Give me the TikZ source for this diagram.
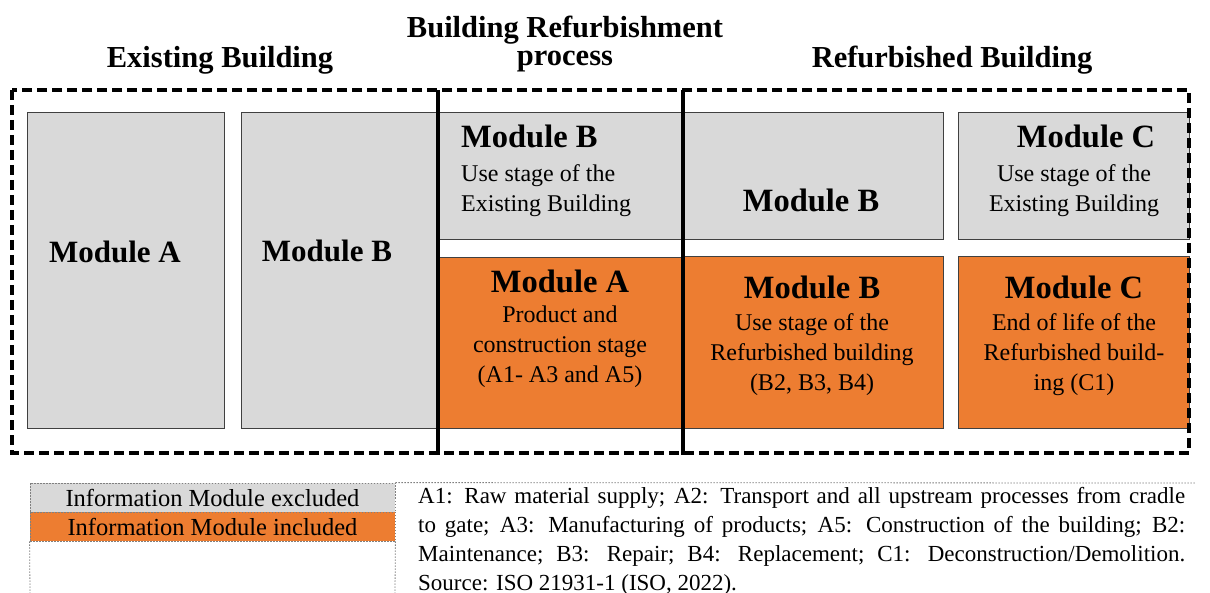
\documentclass[tikz,border=0pt]{standalone}
\usepackage{fontspec}
\setmainfont{Liberation Serif}
\definecolor{modgrey}{HTML}{D9D9D9}
\definecolor{modorange}{HTML}{ED7D31}
\definecolor{modline}{HTML}{404040}
\newcommand{\modtitle}[1]{{\fontsize{32.5}{34}\selectfont\bfseries #1}}

\begin{document}
\begin{tikzpicture}[x=1pt,y=-1pt,
    greybox/.style={draw=modline,line width=0.8pt,fill=modgrey},
    orangebox/.style={draw=modline,line width=0.8pt,fill=modorange},
    frame/.style={line width=3.5pt,dash pattern=on 10pt off 5pt},
    modtext/.style={align=center,inner sep=0pt,font=\fontsize{24}{30}\selectfont},
    headtext/.style={align=center,inner sep=0pt,font=\fontsize{30.5}{28}\selectfont\bfseries},
    legtext/.style={legline,minimum width=365pt,minimum height=29pt,inner sep=0pt,font=\fontsize{24.5}{26}\selectfont},
    legline/.style={draw=gray,line width=0.8pt,dash pattern=on 1.5pt off 1.5pt}]
\useasboundingbox (0,0) rectangle (1210,593);

\node[headtext] (hexist) at (220,60) {Existing Building};
\node[headtext] (hproc) at (565,44) {Building Refurbishment\\process};
\node[headtext] (hrefurb) at (952,60) {Refurbished Building};

\node[greybox,minimum width=197pt,minimum height=316pt] (exA) at (125.5,270) {};
\node[greybox,minimum width=196pt,minimum height=316pt] (exB) at (339,270) {};
\node[greybox,minimum width=243pt,minimum height=127pt] (prB) at (559.5,175.5) {};
\node[orangebox,minimum width=245pt,minimum height=171pt] (prA) at (560.5,342.5) {};
\node[greybox,minimum width=260pt,minimum height=127pt] (rfBg) at (813,175.5) {};
\node[orangebox,minimum width=260pt,minimum height=172pt] (rfBo) at (813,342) {};
\node[greybox,minimum width=231pt,minimum height=127pt] (rfCg) at (1073.5,175.5) {};
\node[orangebox,minimum width=231pt,minimum height=172pt] (rfCo) at (1073.5,342) {};

\node[modtext,font=\fontsize{31}{34}\selectfont\bfseries] (exAtxt) at (115,252) {Module A};
\node[modtext,font=\fontsize{31}{34}\selectfont\bfseries] (exBtxt) at (327,251) {Module B};
\node[modtext,align=left,anchor=north west] (prBtxt) at (461,125) {\modtitle{Module B}\\[4pt]Use stage of the\\Existing Building};
\node[modtext,anchor=north] (prAtxt) at (560,270) {\modtitle{Module A}\\Product and\\construction stage\\(A1- A3 and A5)};
\node[modtext] (rfBgtxt) at (811,200) {\modtitle{Module B}};
\node[modtext,anchor=north] (rfBotxt) at (812,276) {\modtitle{Module B}\\[2pt]Use stage of the\\Refurbished building\\(B2, B3, B4)};
\node[modtext,anchor=north] (rfCgtxt) at (1074,125) {\modtitle{\hspace*{24pt}Module C}\\[4pt]Use stage of the\\Existing Building};
\node[modtext,anchor=north] (rfCotxt) at (1074,276) {\modtitle{Module C}\\[2pt]End of life of the\\Refurbished build-\\ing (C1)};

\draw[frame] (12,90) rectangle (1189,453);
\foreach \x in {438,683} \draw[line width=3.5pt] (\x,90) -- (\x,455);

\node[legtext,fill=modgrey] (legex) at (212.5,497.5) {Information Module excluded};
\node[legtext,fill=modorange] (legin) at (212.5,526.5) {Information Module included};
\draw[legline] (legin.south west) -- (30,593);
\draw[legline] (legin.south east) -- (395,593);
\draw[legline] (legex.north east) -- (1195,483);

\node[anchor=north west,inner sep=0pt,text width=767pt,align=justify,font=\fontsize{23}{29}\selectfont] (note) at (418,487)
  {A1: Raw material supply; A2: Transport and all upstream processes from cradle\linebreak
   to gate; A3: Manufacturing of products; A5: Construction of the building; B2:\linebreak
   Maintenance; B3: Repair; B4: Replacement; C1: Deconstruction/Demolition.\linebreak
   Source: ISO 21931-1 (ISO, 2022).};

\end{tikzpicture}
\end{document}
